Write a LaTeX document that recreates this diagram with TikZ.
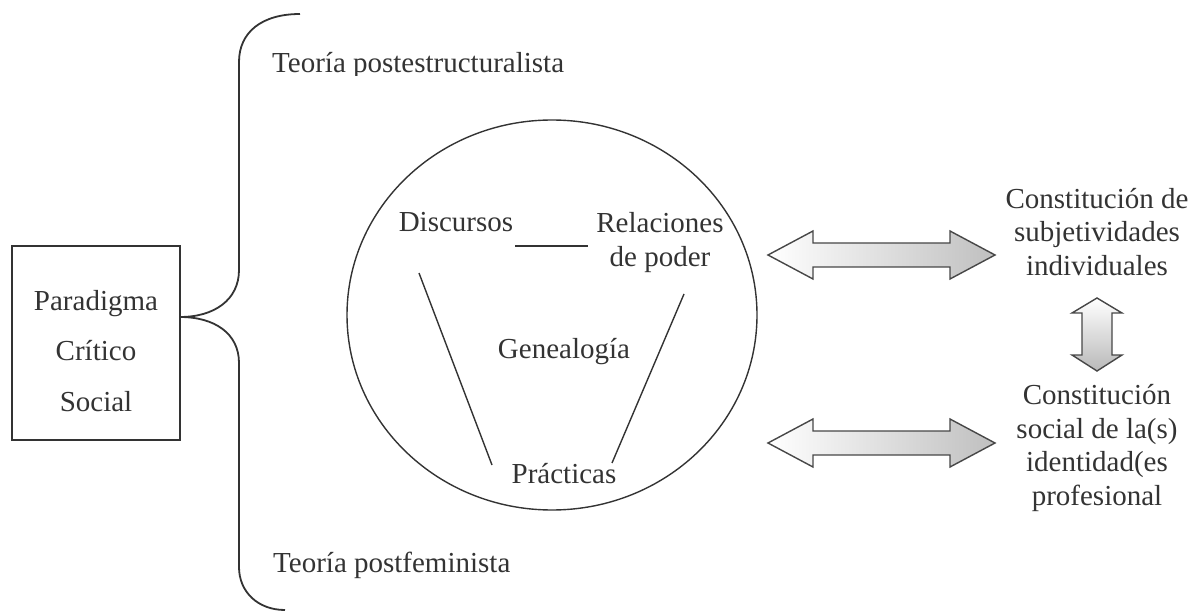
\documentclass[tikz,border=0pt]{standalone}
\usepackage{fontspec}
\setmainfont{Liberation Serif}
\usetikzlibrary{shapes.geometric}
\definecolor{ink}{HTML}{333333}
\begin{document}
\begin{tikzpicture}[x=1pt,y=-1pt,
  txt/.style={inner sep=0pt, text=ink, font=\fontsize{29}{33.5}\selectfont},
  ln/.style={draw=ink, line width=1.4pt},
  arr/.style={draw=ink!90, line width=1.4pt, line join=miter}]
\useasboundingbox (0,0) rectangle (1194,612);

% left box
\node[draw=ink, line width=1.8pt, minimum width=168pt, minimum height=194pt, inner sep=0pt] (box) at (96,343) {};
\node[txt, align=center, font=\fontsize{29}{50.5}\selectfont] (boxtext) at (96,350.6) {Paradigma\\Crítico\\Social};

% brace
\coordinate (j) at (180,317);
\coordinate (btop) at (300,14);
\coordinate (bbot) at (285,610);
\draw[ln, line width=1.8pt] (btop) .. controls (262,14) and (239,32) .. (239,62)
  -- (239,270) .. controls (239,300) and (214,317) .. (j);
\draw[ln, line width=1.8pt] (j) .. controls (214,317) and (239,333) .. (239,363)
  -- (239,567) .. controls (239,592) and (258,610) .. (bbot);

% theory labels
\begin{scope}
  \clip (250,0) rectangle (640,75.5);
  \node[txt, anchor=base west] (tpe) at (272,73) {Teoría postestructuralista};
\end{scope}
\node[txt, anchor=base west] (tpf) at (273,572) {Teoría postfeminista};

% circle
\node[ellipse, draw=ink, line width=1.4pt, minimum width=410pt, minimum height=390pt, inner sep=0pt] (circ) at (552,315) {};

\node[txt, anchor=base] (disc) at (456,232) {Discursos};
\node[txt, align=center, font=\fontsize{29}{34}\selectfont] (rel) at (660,242.3) {Relaciones\\de poder};
\node[txt, anchor=base] (gen) at (564,358) {Genealogía};
\node[txt, anchor=base] (prac) at (564,483) {Prácticas};

\coordinate (h1) at (515,246);
\coordinate (h2) at (588,246);
\coordinate (l1) at (419,273);
\coordinate (l2) at (492,465);
\coordinate (r1) at (684,294);
\coordinate (r2) at (612,463);
\draw[ln] (h1) -- (h2);
\draw[ln] (l1) -- (l2);
\draw[ln] (r1) -- (r2);

% double arrows
\path[arr, left color=white, right color=gray!50]
  (768,255) -- (813,231) -- (813,243) -- (950,243) -- (950,231) -- (995,255)
  -- (950,279) -- (950,267) -- (813,267) -- (813,279) -- cycle;
\path[arr, left color=white, right color=gray!50]
  (768,443) -- (813,419) -- (813,431) -- (950,431) -- (950,419) -- (995,443)
  -- (950,467) -- (950,455) -- (813,455) -- (813,467) -- cycle;
\path[arr, top color=white, bottom color=gray!55]
  (1097,298) -- (1122,313) -- (1112,313) -- (1112,355) -- (1122,355) -- (1097,371)
  -- (1072,355) -- (1082,355) -- (1082,313) -- (1072,313) -- cycle;

% right labels
\node[txt, align=center] (subj) at (1097,231.6) {Constitución de\\subjetividades\\individuales};
\node[txt, align=center] (ident) at (1097,447.8) {Constitución\\social de la(s)\\identidad(es\\profesional};
\end{tikzpicture}
\end{document}
